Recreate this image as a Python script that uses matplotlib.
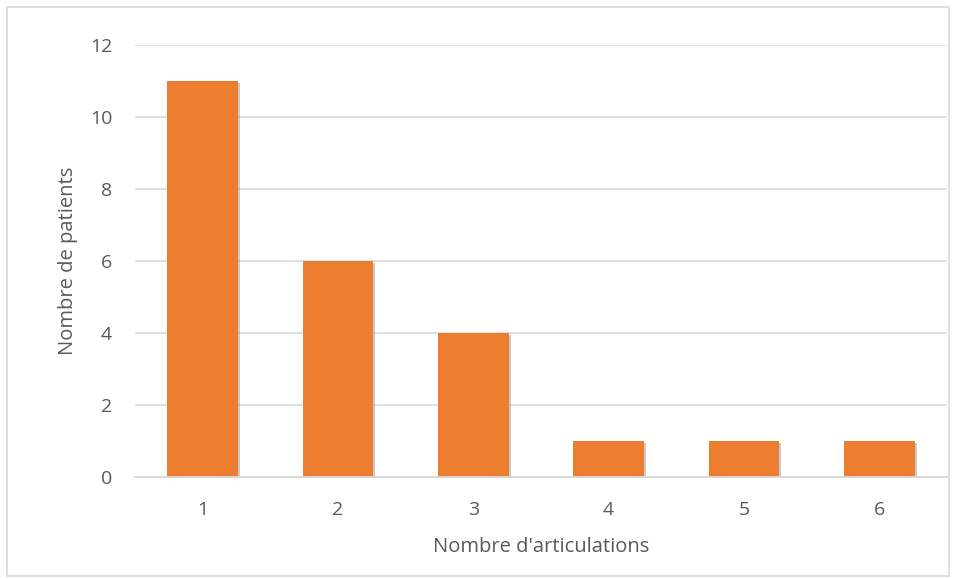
import matplotlib.pyplot as plt
import matplotlib.patheffects as pe
from matplotlib.patches import Rectangle

# données
categories = ["1", "2", "3", "4", "5", "6"]
patients = [11, 6, 4, 1, 1, 1]
y_ticks = [0, 2, 4, 6, 8, 10, 12]

plt.rcParams['font.family'] = ['Open Sans', 'DejaVu Sans']
TEXT = "#595959"
GRID = "#D9D9D9"

fig = plt.figure(figsize=(9.56, 5.79), dpi=100)
ax = fig.add_axes([0.1412, 0.1762, 0.8494, 0.7461])

x = range(1, len(categories) + 1)
bars = ax.bar(x, patients, width=0.52, color="#ED7D31", zorder=3)
for b in bars:
    b.set_path_effects([pe.SimplePatchShadow(offset=(1.5, -1.5), shadow_rgbFace="#999999", alpha=0.5),
                        pe.Normal()])

ax.set_xlim(0.5, len(categories) + 0.5)
ax.set_ylim(0, 12)
ax.set_yticks(y_ticks)
ax.set_xticks(list(x))
ax.set_xticklabels(categories)
ax.yaxis.grid(True, color=GRID, linewidth=1.1, zorder=0)
ax.tick_params(length=0, labelsize=14, colors=TEXT)
ax.tick_params(axis='x', pad=17)
ax.tick_params(axis='y', pad=16.5)

for s in ["top", "right", "left"]:
    ax.spines[s].set_visible(False)
ax.spines["bottom"].set_color(GRID)
ax.spines["bottom"].set_linewidth(1.3)
ax.spines["bottom"].set_zorder(4)

ax.set_xlabel("Nombre d'articulations", fontsize=14.5, color=TEXT, va='center')
ax.set_ylabel("Nombre de patients", fontsize=14.5, color=TEXT, va='center')
ax.xaxis.set_label_coords(0.5, (477 - 547) / 432)
ax.yaxis.set_label_coords((68 - 135) / 812, 0.5)

# cadre du graphique
fig.patches.append(Rectangle((7 / 956, 3 / 579), 942 / 956, 569 / 579, transform=fig.transFigure,
                             fill=False, edgecolor=GRID, linewidth=1.2))

fig.savefig("out.png", dpi=100)
